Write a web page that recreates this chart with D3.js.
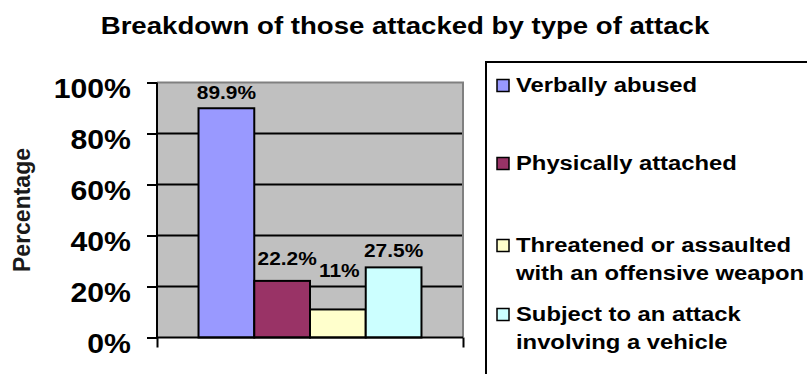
<!DOCTYPE html>
<html>
<head>
<meta charset="utf-8">
<script src="https://cdn.jsdelivr.net/npm/d3@7"></script>
<style>
  html, body { margin: 0; padding: 0; background: #fff; }
  svg { display: block; font-family: "Liberation Sans", Arial, sans-serif; font-weight: bold; }
</style>
</head>
<body>
<svg id="chart" width="807" height="374"></svg>
<script>
// Share of attacked staff, by type of attack
const categories = [
  "Verbally abused",
  "Physically attached",
  "Threatened or assaulted with an offensive weapon",
  "Subject to an attack involving a vehicle"
];
const legendLines = [
  ["Verbally abused"],
  ["Physically attached"],
  ["Threatened or assaulted", "with an offensive weapon"],
  ["Subject to an attack", "involving a vehicle"]
];
const values = [0.899, 0.222, 0.11, 0.275];
const valueLabels = ["89.9%", "22.2%", "11%", "27.5%"];
const yTicks = [0, 0.2, 0.4, 0.6, 0.8, 1.0];
const yTickLabels = ["0%", "20%", "40%", "60%", "80%", "100%"];
const colors = ["#9999FF", "#993366", "#FFFFCC", "#CCFFFF"];

const svg = d3.select("#chart");
const plot = { left: 157, right: 463, top: 82.5, bottom: 337.5 };

const x = d3.scaleBand()
  .domain(categories)
  .range([plot.left, plot.right])
  .paddingInner(0)
  .paddingOuter(0.745);
const y = d3.scaleLinear().domain([0, 1]).range([plot.bottom, plot.top]);

// Title
svg.append("text")
  .attr("transform", "translate(405,33.5) scale(1.2,1)")
  .attr("text-anchor", "middle")
  .attr("font-size", 23)
  .text("Breakdown of those attacked by type of attack");

// Plot area background
svg.append("rect")
  .attr("x", plot.left).attr("y", plot.top)
  .attr("width", plot.right - plot.left).attr("height", plot.bottom - plot.top)
  .attr("fill", "#C0C0C0");

// Horizontal gridlines
svg.append("g")
  .selectAll("line")
  .data(yTicks.filter(t => t > 0 && t < 1))
  .join("line")
  .attr("x1", plot.left).attr("x2", plot.right)
  .attr("y1", d => y(d)).attr("y2", d => y(d))
  .attr("stroke", "#000").attr("stroke-width", 2);

// Plot area border (top and right)
svg.append("path")
  .attr("d", `M${plot.left},${y(1)}H${plot.right}V${plot.bottom}`)
  .attr("fill", "none").attr("stroke", "#808080").attr("stroke-width", 2);

// Bars
svg.append("g")
  .selectAll("rect")
  .data(values)
  .join("rect")
  .attr("x", (d, i) => x(categories[i]))
  .attr("y", d => y(d))
  .attr("width", x.bandwidth())
  .attr("height", d => y(0) - y(d))
  .attr("fill", (d, i) => colors[i])
  .attr("stroke", "#000").attr("stroke-width", 2);

// Y axis with outside ticks
const yAxis = d3.axisLeft(y).tickValues(yTicks).tickSize(10).tickFormat("");
const gy = svg.append("g").attr("transform", `translate(${plot.left},0)`).call(yAxis);
gy.selectAll("path, line").attr("stroke", "#000").attr("stroke-width", 2);
gy.select(".domain").attr("d", `M0,${y(1)}V${y(0)}`);

// Y tick labels
svg.append("g")
  .selectAll("text")
  .data(yTicks)
  .join("text")
  .attr("transform", d => `translate(131,${y(d) + 15.5}) scale(1.12,1)`)
  .attr("text-anchor", "end")
  .attr("font-size", 27)
  .text((d, i) => yTickLabels[i]);

// X axis: baseline with tick marks at both plot edges
const xEdge = d3.scaleLinear().domain([0, 1]).range([plot.left, plot.right]);
const xAxis = d3.axisBottom(xEdge).tickValues([0, 1]).tickSize(10).tickFormat("");
const gx = svg.append("g").attr("transform", `translate(0,${plot.bottom})`).call(xAxis);
gx.selectAll("path, line").attr("stroke", "#000").attr("stroke-width", 2);
gx.select(".domain").attr("d", `M${plot.left},0H${plot.right}`);

// Value labels above bars
const labelLift = [9, 16, 32.7, 10];
const labelShift = [0, 5, 1.5, 0];
svg.append("g")
  .selectAll("text")
  .data(values)
  .join("text")
  .attr("transform", (d, i) =>
    `translate(${x(categories[i]) + x.bandwidth() / 2 + labelShift[i]},${y(d) - labelLift[i]}) scale(1.16,1)`)
  .attr("text-anchor", "middle")
  .attr("font-size", 18)
  .text((d, i) => valueLabels[i]);

// Y axis title
svg.append("text")
  .attr("transform", "translate(29.5,210) rotate(-90)")
  .attr("text-anchor", "middle")
  .attr("font-size", 23)
  .attr("fill", "#1a1a1a")
  .text("Percentage");

// Legend
svg.append("rect")
  .attr("x", 486).attr("y", 62)
  .attr("width", 340).attr("height", 340)
  .attr("fill", "#fff").attr("stroke", "#000").attr("stroke-width", 2);

const rowTop = [92, 170, 252, 321];
const lg = svg.append("g")
  .selectAll("g")
  .data(legendLines)
  .join("g")
  .attr("transform", (d, i) => `translate(0,${rowTop[i]})`);

lg.append("rect")
  .attr("x", 497).attr("y", -12.5)
  .attr("width", 12).attr("height", 12)
  .attr("fill", (d, i) => colors[i])
  .attr("stroke", "#000").attr("stroke-width", 1.5);

lg.each(function (lines) {
  d3.select(this).selectAll("text")
    .data(lines)
    .join("text")
    .attr("transform", (t, j) => `translate(516,${j * 27.5}) scale(1.19,1)`)
    .attr("font-size", 20)
    .text(t => t);
});
</script>
</body>
</html>
